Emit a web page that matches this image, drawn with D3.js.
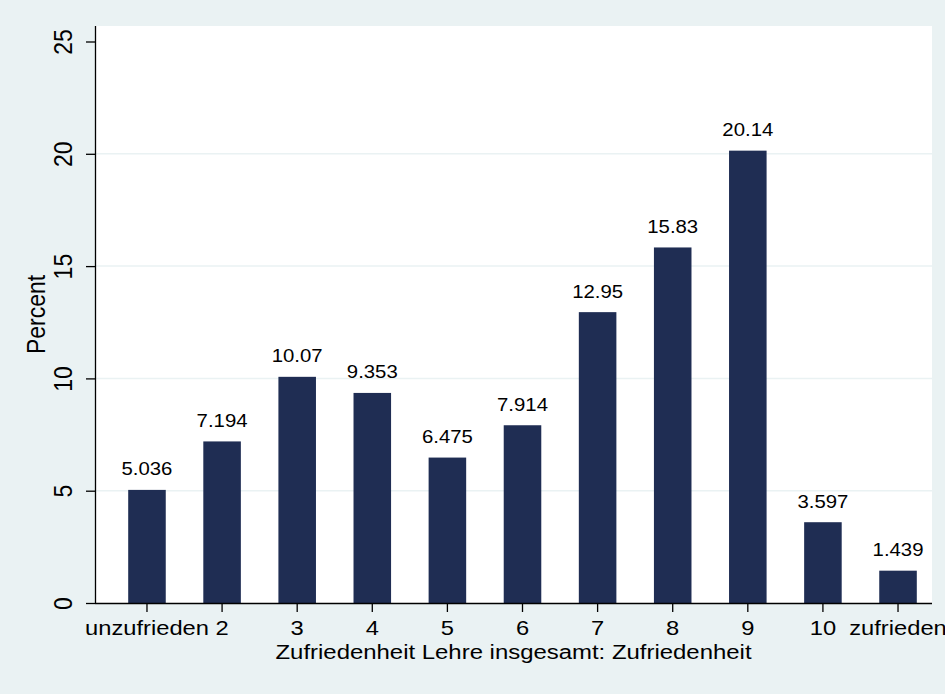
<!DOCTYPE html>
<html>
<head>
<meta charset="utf-8">
<script src="https://cdn.jsdelivr.net/npm/d3@7"></script>
<style>
  html, body { margin: 0; padding: 0; background: #EAF2F3; }
  svg { display: block; }
  text { font-family: "Liberation Sans", Arial, Helvetica, sans-serif; fill: #000; }
</style>
</head>
<body>
<svg id="chart" width="945" height="694"></svg>
<script>
// ---- data ----
const categories = ["unzufrieden", "2", "3", "4", "5", "6", "7", "8", "9", "10", "zufrieden"];
const percentValues = [5.036, 7.194, 10.07, 9.353, 6.475, 7.914, 12.95, 15.83, 20.14, 3.597, 1.439];
const valueLabels = ["5.036", "7.194", "10.07", "9.353", "6.475", "7.914", "12.95", "15.83", "20.14", "3.597", "1.439"];
const yTicks = [0, 5, 10, 15, 20, 25];
const yGrid = [5, 10, 15, 20];
const xTitle = "Zufriedenheit Lehre insgesamt: Zufriedenheit";
const yTitle = "Percent";

// ---- layout ----
const W = 945, H = 694;
const plot = { left: 95, right: 932, top: 26, bottom: 603 };
const bg = "#EAF2F3";
const barColor = "#1F2D53";
const sx = 1.13; // horizontal text stretch

const svg = d3.select("#chart");
svg.append("rect").attr("x", 0).attr("y", 0).attr("width", W).attr("height", H).attr("fill", bg);
svg.append("rect")
  .attr("x", plot.left).attr("y", plot.top)
  .attr("width", plot.right - plot.left).attr("height", plot.bottom - plot.top)
  .attr("fill", "#fff");

const y = d3.scaleLinear().domain([0, 25]).range([603, 41.5]);
const x = d3.scaleBand().domain(categories).range([128.2, 916.8]).paddingInner(0.5).paddingOuter(0);

// grid
svg.append("g").selectAll("line").data(yGrid).join("line")
  .attr("x1", plot.left).attr("x2", plot.right)
  .attr("y1", d => y(d)).attr("y2", d => y(d))
  .attr("stroke", bg).attr("stroke-width", 1.5);

// bars
svg.append("g").selectAll("rect").data(percentValues).join("rect")
  .attr("x", (d, i) => x(categories[i]))
  .attr("width", x.bandwidth())
  .attr("y", d => y(d))
  .attr("height", d => y(0) - y(d))
  .attr("fill", barColor);

// value labels
svg.append("g").selectAll("text").data(percentValues).join("text")
  .attr("transform", (d, i) => `translate(${x(categories[i]) + x.bandwidth() / 2},${y(d) - 14.5}) scale(1.1,1)`)
  .attr("text-anchor", "middle")
  .style("font-size", "18.5px")
  .text((d, i) => valueLabels[i]);

// y axis
const yAxis = svg.append("g")
  .attr("transform", `translate(${plot.left},0)`)
  .call(d3.axisLeft(y).tickValues(yTicks).tickSize(9).tickSizeOuter(0).tickFormat(d3.format("d")));
yAxis.select(".domain").attr("d", `M0.5,${plot.top}V${plot.bottom}`).attr("stroke", "#000").attr("stroke-width", 1.3);
yAxis.selectAll(".tick line").attr("stroke", "#000").attr("stroke-width", 1.3);
yAxis.selectAll(".tick text")
  .attr("x", null).attr("dy", null)
  .attr("transform", `translate(-23,0) scale(1.11,1) rotate(-90)`)
  .attr("text-anchor", "middle")
  .style("font-size", "23px")
  .style("font-family", '"Liberation Sans", Arial, Helvetica, sans-serif')
  .attr("fill", "#000");

// x axis
const xAxis = svg.append("g")
  .attr("transform", `translate(0,${plot.bottom})`)
  .call(d3.axisBottom(x).tickSize(9).tickSizeOuter(0));
xAxis.select(".domain").attr("d", `M${plot.left},0.5H${plot.right}`).attr("stroke", "#000").attr("stroke-width", 1.3);
xAxis.selectAll(".tick line").attr("stroke", "#000").attr("stroke-width", 1.3);
xAxis.selectAll(".tick text")
  .attr("y", null).attr("dy", null)
  .attr("transform", `translate(0,32) scale(${sx},1)`)
  .attr("text-anchor", "middle")
  .style("font-size", "21px")
  .style("font-family", '"Liberation Sans", Arial, Helvetica, sans-serif')
  .attr("fill", "#000");

// axis titles
svg.append("text")
  .attr("transform", `translate(${(plot.left + plot.right) / 2},658.5) scale(1.14,1)`)
  .attr("text-anchor", "middle")
  .style("font-size", "21px")
  .text(xTitle);

svg.append("text")
  .attr("transform", `translate(45,${(plot.top + plot.bottom) / 2}) scale(1.1,1) rotate(-90)`)
  .attr("text-anchor", "middle")
  .style("font-size", "23px")
  .text(yTitle);
</script>
</body>
</html>
